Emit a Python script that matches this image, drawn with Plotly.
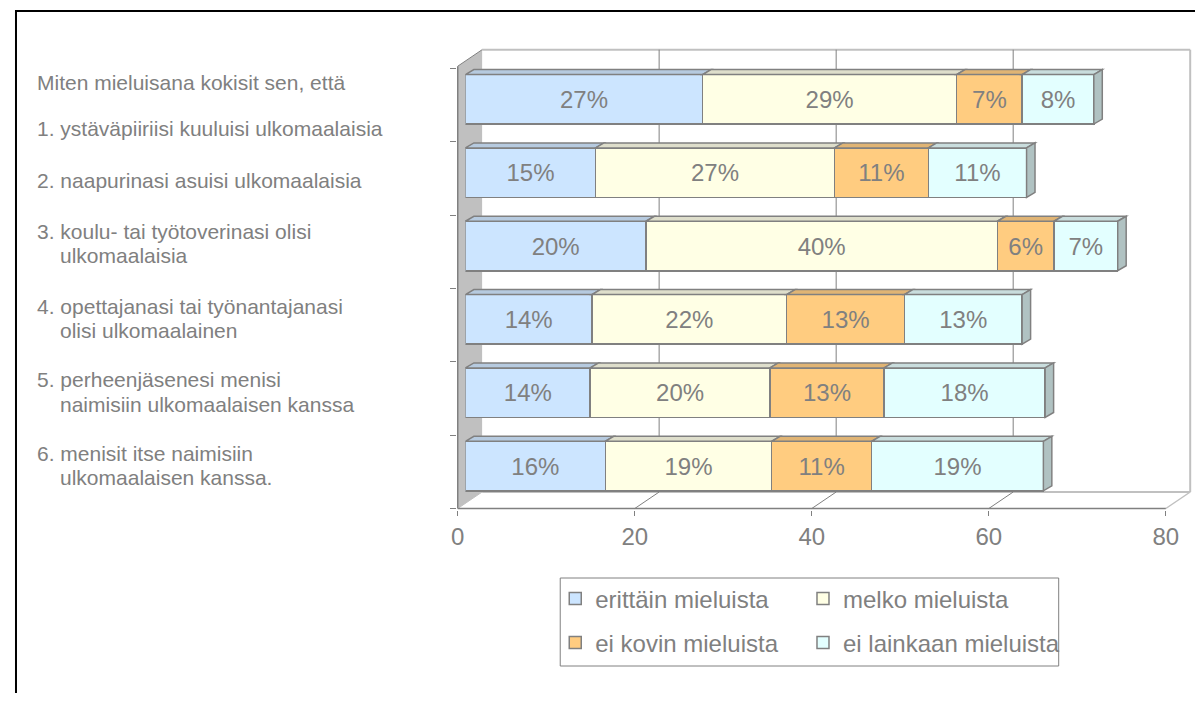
import plotly.graph_objects as go

# ---------------- data ----------------
QUESTION = "Miten mieluisana kokisit sen, että"
CATEGORY_LINES = [
    ["1. ystäväpiiriisi kuuluisi ulkomaalaisia"],
    ["2. naapurinasi asuisi ulkomaalaisia"],
    ["3. koulu- tai työtoverinasi olisi", "ulkomaalaisia"],
    ["4. opettajanasi tai työnantajanasi", "olisi ulkomaalainen"],
    ["5. perheenjäsenesi menisi", "naimisiin ulkomaalaisen kanssa"],
    ["6. menisit itse naimisiin", "ulkomaalaisen kanssa."],
]
SERIES_NAMES = ["erittäin mieluista", "melko mieluista", "ei kovin mieluista", "ei lainkaan mieluista"]
ERITTAIN = [26.8, 14.7, 20.4, 14.3, 14.1, 15.8]
MELKO = [28.7, 27.0, 39.7, 22.0, 20.3, 18.8]
EI_KOVIN = [7.4, 10.6, 6.4, 13.3, 12.9, 11.3]
EI_LAINKAAN = [8.1, 11.1, 7.2, 13.3, 18.2, 19.4]
X_TICKS = [0, 20, 40, 60, 80]

CATEGORIES = [" ".join(lines) for lines in CATEGORY_LINES]
SERIES = [ERITTAIN, MELKO, EI_KOVIN, EI_LAINKAAN]

# ---------------- styles / layout constants ----------------
SCREEN_W, SCREEN_H = 1203, 701
OFF = 8                                  # default page body margin
W, H = SCREEN_W - 2 * OFF, SCREEN_H - 2 * OFF
FONT = "Arial, 'Liberation Sans', sans-serif"
TXT = "#808080"
EDGE = "#808080"
LIGHT = "#C0C0C0"
FRONT = ["#CCE5FF", "#FFFFE5", "#FFCC80", "#E3FFFF"]
TOP = ["#B6CADF", "#DEDECB", "#E0B474", "#C9DDDD"]
SIDE = ["#9FB2C6", "#C6C6B2", "#C8A060", "#B0C2C2"]

XMAX = 80
PXU = 8.896            # pixels per value unit
FLOOR_X0 = 454.0       # screen px of value 0 at front floor
FLOOR_Y = 508.5        # screen px of front floor
BAND = 73.35           # px per category band
BAR_X0 = 461.7         # screen px of value 0 at bar front face
BAR_C0 = 99.3          # screen px of first bar centre
BW = 0.675             # bar thickness (fraction of band)
WALL_TOP = 6.03
DX = 24.5 / PXU        # wall depth (value units)
DY = 16.5 / BAND       # wall depth (band units)
FDX = 8.5 / PXU        # bar depth
FDY = 5.0 / BAND
NCAT = len(CATEGORIES)


def px_x(p):
    return (p - OFF) / W


def px_y(p):
    return 1 - (p - OFF) / H


fx_lo, fx_hi = -0.1, 83.0
fy_lo, fy_hi = -0.02, 6.4

fig = go.Figure()

# ---------------- bars (front faces) ----------------
for k, (name, vals) in enumerate(zip(SERIES_NAMES, SERIES)):
    fig.add_trace(go.Bar(
        name=name, x=vals, y=CATEGORIES, orientation="h",
        xaxis="x2", yaxis="y2", width=BW,
        marker=dict(color=FRONT[k], line=dict(color=EDGE, width=1.5)),
        texttemplate="%{x:.0f}%", textposition="inside",
        insidetextanchor="middle", textangle=0, constraintext="none",
        textfont=dict(family=FONT, size=24, color=TXT),
        hoverinfo="skip",
        legend="legend" if k == 0 else f"legend{k + 1}",
    ))

shapes = []


def seg(x0, y0, x1, y1, color, width=1):
    return dict(type="line", xref="x", yref="y", x0=x0, y0=y0, x1=x1, y1=y1,
                line=dict(color=color, width=width), layer="below")


# ---------------- frame (walls, floor, gridlines) ----------------
shapes.append(seg(DX, WALL_TOP + DY, XMAX + DX, WALL_TOP + DY, LIGHT, 2))
shapes.append(seg(XMAX + DX, DY, XMAX + DX, WALL_TOP + DY, LIGHT, 2))
shapes.append(seg(DX, DY, XMAX + DX, DY, LIGHT, 2))
shapes.append(seg(XMAX, 0, XMAX + DX, DY, LIGHT, 1.5))
for v in X_TICKS[1:-1]:
    shapes.append(seg(v + DX, DY, v + DX, WALL_TOP + DY, EDGE, 1))
    shapes.append(seg(v, 0, v + DX, DY, EDGE, 1))
shapes.append(dict(type="path", xref="x", yref="y", layer="below",
                   path=f"M 0,0 L 0,{WALL_TOP} L {DX},{WALL_TOP + DY} L {DX},{DY} Z",
                   fillcolor=LIGHT, line=dict(width=0)))
shapes.append(seg(0, 0, 0, WALL_TOP, EDGE, 1.5))
shapes.append(seg(0, WALL_TOP, DX, WALL_TOP + DY, EDGE, 1))
shapes.append(seg(0, 0, DX, DY, LIGHT, 1))
shapes.append(seg(0, 0, XMAX, 0, EDGE, 1.5))

# ---------------- bar top and side faces ----------------
for i in range(NCAT):
    t = i - BW / 2
    b = i + BW / 2
    cum = 0.0
    for k, vals in enumerate(SERIES):
        x0, x1 = cum, cum + vals[i]
        shapes.append(dict(
            type="path", xref="x2", yref="y2", layer="above",
            path=(f"M {x0},{t} L {x1},{t} L {x1 + FDX},{t - FDY} "
                  f"L {x0 + FDX},{t - FDY} Z"),
            fillcolor=TOP[k], line=dict(color=EDGE, width=1.5)))
        cum = x1
    shapes.append(dict(
        type="path", xref="x2", yref="y2", layer="above",
        path=(f"M {cum},{t} L {cum + FDX},{t - FDY} L {cum + FDX},{b - FDY} "
              f"L {cum},{b} Z"),
        fillcolor=SIDE[-1], line=dict(color=EDGE, width=1.5)))

# ---------------- legend box and outer border ----------------
shapes.append(dict(type="rect", xref="paper", yref="paper",
                   x0=px_x(557), x1=px_x(1058), y0=px_y(666), y1=px_y(578),
                   line=dict(color=EDGE, width=1), fillcolor="rgba(0,0,0,0)"))
shapes.append(dict(type="rect", xref="paper", yref="paper",
                   x0=px_x(10), x1=px_x(1230), y0=px_y(730), y1=px_y(11),
                   line=dict(color="black", width=2), fillcolor="rgba(0,0,0,0)"))

# ---------------- left text ----------------
annotations = []
LINE_Y = [[129.0], [181.0], [231.7, 255.0], [306.7, 330.0], [379.3, 404.0], [453.3, 477.3]]
annotations.append(dict(text=QUESTION, xref="paper", yref="paper",
                        x=px_x(29.3), y=px_y(82.7), xanchor="left", yanchor="middle",
                        showarrow=False, font=dict(family=FONT, size=21, color=TXT)))
for lines, ys in zip(CATEGORY_LINES, LINE_Y):
    for j, (ln, yy) in enumerate(zip(lines, ys)):
        annotations.append(dict(text=ln, xref="paper", yref="paper",
                                x=px_x(29.3 if j == 0 else 52.5), y=px_y(yy),
                                xanchor="left", yanchor="middle", showarrow=False,
                                font=dict(family=FONT, size=21, color=TXT)))

# ---------------- legends ----------------
LEG_POS = [(552, 599), (801, 599), (552, 643), (801, 643)]
legends = {}
for k, (lx, ly) in enumerate(LEG_POS):
    key = "legend" if k == 0 else f"legend{k + 1}"
    legends[key] = dict(x=px_x(lx), y=px_y(ly), xanchor="left", yanchor="middle",
                        bgcolor="rgba(0,0,0,0)", borderwidth=0,
                        font=dict(family=FONT, size=24, color=TXT),
                        itemclick=False, itemdoubleclick=False)

fig.update_layout(
    width=W, height=H,
    margin=dict(l=0, r=0, t=0, b=0),
    paper_bgcolor="white", plot_bgcolor="rgba(0,0,0,0)",
    barmode="stack", showlegend=True,
    font=dict(family=FONT, color=TXT),
    xaxis=dict(domain=[px_x(FLOOR_X0 + fx_lo * PXU), px_x(FLOOR_X0 + fx_hi * PXU)],
               range=[fx_lo, fx_hi], anchor="y",
               tickvals=X_TICKS, ticktext=[str(v) for v in X_TICKS],
               ticks="outside", ticklen=5, tickcolor=EDGE, tickwidth=1,
               tickfont=dict(family=FONT, size=24, color=TXT),
               showgrid=False, zeroline=False, showline=False, fixedrange=True),
    yaxis=dict(domain=[px_y(FLOOR_Y - fy_lo * BAND), px_y(FLOOR_Y - fy_hi * BAND)],
               range=[fy_lo, fy_hi], anchor="x",
               tickvals=list(range(NCAT + 1)), ticks="outside", ticklen=6,
               tickcolor=EDGE, tickwidth=1, showticklabels=False,
               showgrid=False, zeroline=False, showline=False, fixedrange=True),
    xaxis2=dict(domain=[px_x(BAR_X0), px_x(BAR_X0 + XMAX * PXU)],
                range=[0, XMAX], anchor="y2", visible=False, fixedrange=True),
    yaxis2=dict(domain=[px_y(BAR_C0 + (NCAT - 0.5) * BAND), px_y(BAR_C0 - 0.5 * BAND)],
                type="category", categoryorder="array", categoryarray=CATEGORIES,
                range=[NCAT - 0.5, -0.5], anchor="x2", visible=False, fixedrange=True),
    shapes=shapes,
    annotations=annotations,
    **legends,
)

fig.write_html("out.html")
